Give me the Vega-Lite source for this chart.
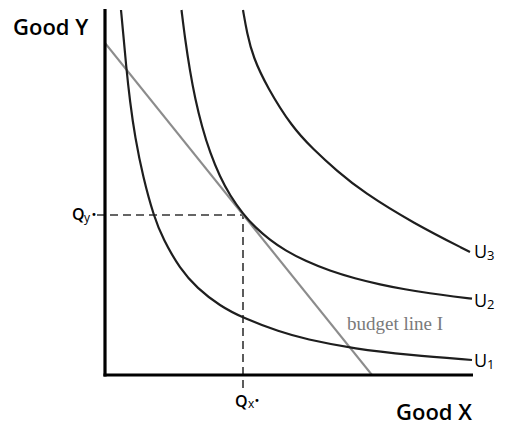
{
  "$schema": "https://vega.github.io/schema/vega-lite/v6.json",
  "width": 368,
  "height": 366,
  "autosize": {"type": "none"},
  "padding": {"left": 105, "top": 9, "right": 35, "bottom": 56},
  "background": "white",
  "config": {"view": {"stroke": null}},
  "datasets": {
    "curves": [
      {"curve": "U1", "x": 16, "y": 365}, {"curve": "U1", "x": 18, "y": 344}, {"curve": "U1", "x": 21, "y": 310},
      {"curve": "U1", "x": 25, "y": 273}, {"curve": "U1", "x": 30, "y": 238}, {"curve": "U1", "x": 38, "y": 198},
      {"curve": "U1", "x": 49, "y": 158}, {"curve": "U1", "x": 58, "y": 136}, {"curve": "U1", "x": 75, "y": 106},
      {"curve": "U1", "x": 92, "y": 87}, {"curve": "U1", "x": 115, "y": 69}, {"curve": "U1", "x": 138, "y": 57},
      {"curve": "U1", "x": 175, "y": 43}, {"curve": "U1", "x": 200, "y": 36}, {"curve": "U1", "x": 250, "y": 26},
      {"curve": "U1", "x": 305, "y": 20}, {"curve": "U1", "x": 367, "y": 15},
      {"curve": "U2", "x": 76.5, "y": 365}, {"curve": "U2", "x": 80, "y": 336.5}, {"curve": "U2", "x": 85, "y": 303.5},
      {"curve": "U2", "x": 90, "y": 277}, {"curve": "U2", "x": 97, "y": 248}, {"curve": "U2", "x": 105, "y": 222.4},
      {"curve": "U2", "x": 115, "y": 198}, {"curve": "U2", "x": 125, "y": 179.5}, {"curve": "U2", "x": 138, "y": 161},
      {"curve": "U2", "x": 150, "y": 147.8}, {"curve": "U2", "x": 165, "y": 134.9}, {"curve": "U2", "x": 180, "y": 124.7},
      {"curve": "U2", "x": 200, "y": 114.1}, {"curve": "U2", "x": 225, "y": 104.1}, {"curve": "U2", "x": 250, "y": 96.5},
      {"curve": "U2", "x": 275, "y": 90.5}, {"curve": "U2", "x": 300, "y": 85.6}, {"curve": "U2", "x": 325, "y": 81.6},
      {"curve": "U2", "x": 350, "y": 78.3}, {"curve": "U2", "x": 367, "y": 76.3},
      {"curve": "U3", "x": 138, "y": 365}, {"curve": "U3", "x": 142, "y": 342}, {"curve": "U3", "x": 148, "y": 318},
      {"curve": "U3", "x": 162, "y": 288}, {"curve": "U3", "x": 187, "y": 248}, {"curve": "U3", "x": 208, "y": 226},
      {"curve": "U3", "x": 232, "y": 204}, {"curve": "U3", "x": 258, "y": 183}, {"curve": "U3", "x": 308, "y": 152},
      {"curve": "U3", "x": 365, "y": 123}
    ],
    "budget": [{"x": 0, "y": 332}, {"x": 267, "y": 0}],
    "axes": [
      {"x": 0, "y": -1.5, "x2": 0, "y2": 366},
      {"x": -1.5, "y": 0, "x2": 368, "y2": 0}
    ],
    "guides": [
      {"x": -8, "y": 160, "x2": 138, "y2": 160},
      {"x": 138, "y": -13, "x2": 138, "y2": 160}
    ],
    "titles": [
      {"text": "Good Y", "x": -92, "y": 340},
      {"text": "Good X", "x": 291, "y": -45}
    ],
    "ulabels": [
      {"text": "U", "x": 369, "y": 117},
      {"text": "U", "x": 369, "y": 68},
      {"text": "U", "x": 369, "y": 8}
    ],
    "usubs": [
      {"text": "3", "x": 382, "y": 115},
      {"text": "2", "x": 382, "y": 66},
      {"text": "1", "x": 382, "y": 6}
    ],
    "qlabels": [
      {"text": "Q", "x": 130, "y": -32},
      {"text": "Q", "x": -33, "y": 155}
    ],
    "qsubs": [
      {"text": "x", "x": 143, "y": -33},
      {"text": "y", "x": -21, "y": 153}
    ],
    "qdots": [
      {"text": "•", "x": 152, "y": -26},
      {"text": "•", "x": -11, "y": 160}
    ],
    "blabel": [{"text": "budget line I", "x": 242, "y": 45}]
  },
  "encoding": {
    "x": {"field": "x", "type": "quantitative", "scale": {"domain": [0, 368], "nice": false, "zero": false}, "axis": null},
    "y": {"field": "y", "type": "quantitative", "scale": {"domain": [0, 366], "nice": false, "zero": false}, "axis": null}
  },
  "layer": [
    {
      "data": {"name": "guides"},
      "mark": {"type": "rule", "stroke": "#333333", "strokeWidth": 1.6, "strokeDash": [8, 5]},
      "encoding": {"x2": {"field": "x2"}, "y2": {"field": "y2"}}
    },
    {
      "data": {"name": "budget"},
      "mark": {"type": "line", "stroke": "#8c8c8c", "strokeWidth": 2},
      "encoding": {}
    },
    {
      "data": {"name": "curves"},
      "mark": {"type": "line", "interpolate": "basis", "stroke": "#1e1e1e", "strokeWidth": 2.2},
      "encoding": {"detail": {"field": "curve"}}
    },
    {
      "data": {"name": "axes"},
      "mark": {"type": "rule", "stroke": "#000000", "strokeWidth": 3.2},
      "encoding": {"x2": {"field": "x2"}, "y2": {"field": "y2"}}
    },
    {
      "data": {"name": "titles"},
      "mark": {"type": "text", "font": "Open Sans", "fontSize": 22, "fontWeight": 600, "align": "left", "baseline": "alphabetic", "color": "#000000"},
      "encoding": {"text": {"field": "text"}}
    },
    {
      "data": {"name": "ulabels"},
      "mark": {"type": "text", "font": "Open Sans", "fontSize": 18, "fontWeight": 500, "align": "left", "baseline": "alphabetic", "color": "#000000"},
      "encoding": {"text": {"field": "text"}}
    },
    {
      "data": {"name": "usubs"},
      "mark": {"type": "text", "font": "Open Sans", "fontSize": 13, "fontWeight": 500, "align": "left", "baseline": "alphabetic", "color": "#000000"},
      "encoding": {"text": {"field": "text"}}
    },
    {
      "data": {"name": "qlabels"},
      "mark": {"type": "text", "font": "Open Sans", "fontSize": 16, "fontWeight": 600, "align": "left", "baseline": "alphabetic", "color": "#000000"},
      "encoding": {"text": {"field": "text"}}
    },
    {
      "data": {"name": "qsubs"},
      "mark": {"type": "text", "font": "Open Sans", "fontSize": 12, "fontWeight": 500, "align": "left", "baseline": "alphabetic", "color": "#000000"},
      "encoding": {"text": {"field": "text"}}
    },
    {
      "data": {"name": "qdots"},
      "mark": {"type": "text", "font": "DejaVu Sans", "fontSize": 10, "align": "center", "baseline": "middle", "color": "#000000"},
      "encoding": {"text": {"field": "text"}}
    },
    {
      "data": {"name": "blabel"},
      "mark": {"type": "text", "font": "Liberation Serif", "fontSize": 19, "align": "left", "baseline": "alphabetic", "color": "#7a7a7a"},
      "encoding": {"text": {"field": "text"}}
    }
  ]
}
